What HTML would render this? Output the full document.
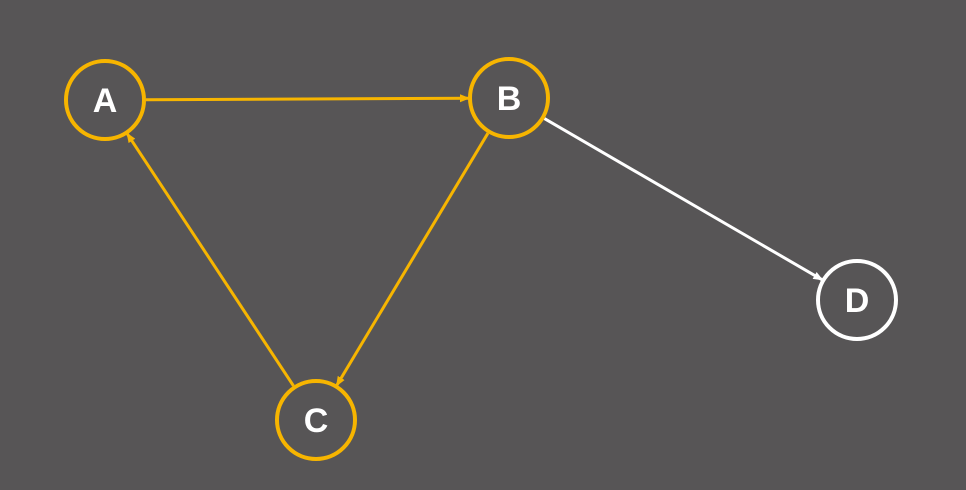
<!DOCTYPE html>
<html><head><meta charset="utf-8"><style>
html,body{margin:0;padding:0;background:#575556;}
svg{display:block}
</style></head><body>
<svg width="966" height="490" viewBox="0 0 966 490">
<defs>
<marker id="ay" markerWidth="10" markerHeight="10" refX="9" refY="5" orient="auto" markerUnits="userSpaceOnUse"><path d="M0,1 L10,5 L0,9 z" fill="#f7b500"/></marker>
<marker id="aw" markerWidth="10" markerHeight="10" refX="9" refY="5" orient="auto" markerUnits="userSpaceOnUse"><path d="M0,1 L10,5 L0,9 z" fill="#ffffff"/></marker>
</defs>
<rect width="966" height="490" fill="#575556"/>
<g id="edges"></g>
<g id="nodes"></g>
</svg>
<script>
const nodeNames=['A','B','C','D'];
const nodeX=[105,509,316,857];
const nodeY=[100,98,420,300];
const nodeColor=['#f7b500','#f7b500','#f7b500','#ffffff'];
const edgeFrom=[0,1,2,1];
const edgeTo=[1,2,0,3];
const edgeColor=['y','y','y','w'];
const R=39, NS='http://www.w3.org/2000/svg';
const eg=document.getElementById('edges'), ng=document.getElementById('nodes');
edgeFrom.forEach((f,i)=>{
  const t=edgeTo[i];
  const dx=nodeX[t]-nodeX[f], dy=nodeY[t]-nodeY[f], d=Math.hypot(dx,dy);
  const ux=dx/d, uy=dy/d;
  const l=document.createElementNS(NS,'line');
  l.setAttribute('x1',nodeX[f]+ux*(R+2)); l.setAttribute('y1',nodeY[f]+uy*(R+2));
  l.setAttribute('x2',nodeX[t]-ux*(R+1)); l.setAttribute('y2',nodeY[t]-uy*(R+1));
  l.setAttribute('stroke',edgeColor[i]==='y'?'#f7b500':'#ffffff');
  l.setAttribute('stroke-width','3');
  l.setAttribute('marker-end','url(#a'+edgeColor[i]+')');
  
  
  eg.appendChild(l);
});
nodeNames.forEach((n,i)=>{
  const c=document.createElementNS(NS,'circle');
  c.setAttribute('cx',nodeX[i]); c.setAttribute('cy',nodeY[i]); c.setAttribute('r',R);
  c.setAttribute('fill','#575556'); c.setAttribute('stroke',nodeColor[i]); c.setAttribute('stroke-width','4');
  
  
  ng.appendChild(c);
  const tx=document.createElementNS(NS,'text');
  tx.setAttribute('x',nodeX[i]); tx.setAttribute('y',nodeY[i]+12);
  tx.setAttribute('text-anchor','middle'); tx.setAttribute('fill','#ffffff');
  tx.setAttribute('font-family','"Liberation Sans", sans-serif'); tx.setAttribute('font-size','34'); tx.setAttribute('font-weight','bold');
  tx.textContent=n;
  
  
  ng.appendChild(tx);
});
</script>
</body></html>
